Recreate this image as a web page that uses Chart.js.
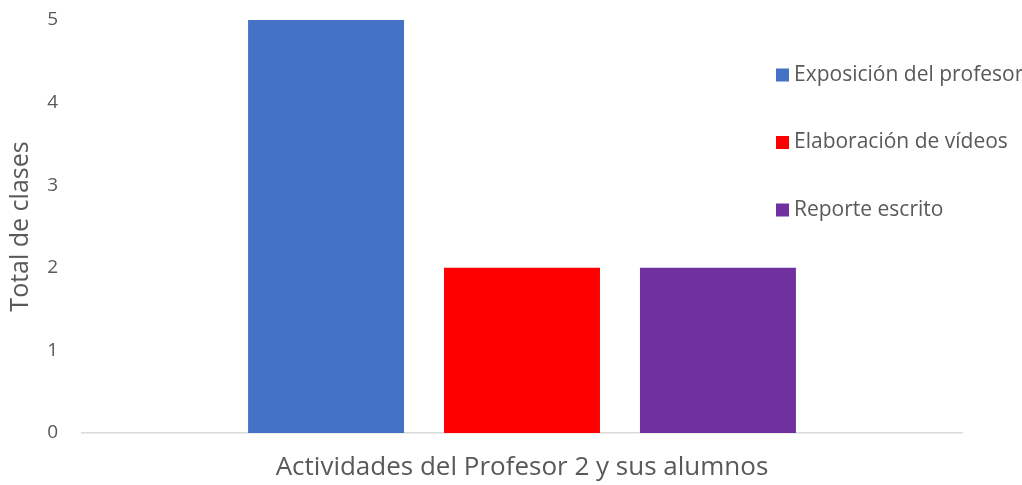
<!DOCTYPE html>
<html>
<head>
<meta charset="utf-8">
<script src="https://cdn.jsdelivr.net/npm/chart.js@4/dist/chart.umd.min.js"></script>
<style>
  html, body { margin: 0; padding: 0; background: #fff; }
  #wrap { width: 1022px; height: 485px; }
</style>
</head>
<body>
<div id="wrap"><canvas id="chart"></canvas></div>
<script>
var categories = ['Actividades del Profesor 2 y sus alumnos'];
var seriesNames = ['Exposición del profesor', 'Elaboración de vídeos', 'Reporte escrito'];
var seriesValues = [[5], [2], [2]];
var seriesColors = ['#4472C4', '#FF0000', '#7030A0'];
var yTicks = [0, 1, 2, 3, 4, 5];

var fontFamily = "'Open Sans', sans-serif";
var textColor = '#595959';

// leyenda a la derecha, dibujada encima del area del grafico (como en Excel)
var sideLegend = {
    id: 'sideLegend',
    afterDraw: function (chart) {
        var ctx = chart.ctx;
        ctx.save();
        ctx.font = '21px ' + fontFamily;
        ctx.textBaseline = 'middle';
        ctx.textAlign = 'left';
        chart.data.datasets.forEach(function (ds, i) {
            var y = 75 + i * 67.5;
            ctx.fillStyle = ds.backgroundColor;
            ctx.fillRect(776, y - 6.5, 13, 13);
            ctx.fillStyle = textColor;
            ctx.fillText(ds.label, 794, y);
        });
        ctx.restore();
    }
};

var datasets = seriesNames.map(function (name, i) {
    return {
        label: name,
        data: seriesValues[i],
        backgroundColor: seriesColors[i],
        borderWidth: 0,
        categoryPercentage: 0.668,
        barPercentage: 0.796
    };
});

new Chart(document.getElementById('chart'), {
    type: 'bar',
    data: { labels: categories, datasets: datasets },
    options: {
        responsive: true,
        maintainAspectRatio: false,
        animation: false,
        layout: { padding: { top: 20, right: 60, bottom: 0, left: 0 } },
        plugins: {
            legend: { display: false },
            tooltip: { enabled: false }
        },
        scales: {
            x: {
                grid: { display: false, drawTicks: false },
                border: { display: true, color: '#D9D9D9', width: 1.5 },
                ticks: { color: textColor, font: { size: 26, family: fontFamily }, padding: 19 },
                afterFit: function (scale) { scale.height = 52; }
            },
            y: {
                min: 0,
                max: 5,
                afterBuildTicks: function (scale) {
                    scale.ticks = yTicks.map(function (v) { return { value: v }; });
                },
                grid: { display: false, drawTicks: false },
                border: { display: false },
                ticks: { color: textColor, font: { size: 19, family: fontFamily }, padding: 24 },
                title: {
                    display: true,
                    text: 'Total de clases',
                    color: textColor,
                    font: { size: 25, family: fontFamily },
                    padding: { top: 6, bottom: 0 }
                },
                afterFit: function (scale) {
                    scale.width = 82;
                    // sin margen extra arriba/abajo: el area empieza en y=20
                    scale.paddingTop = 0;
                    scale.paddingBottom = 0;
                }
            }
        }
    },
    plugins: [sideLegend]
});
</script>
</body>
</html>
